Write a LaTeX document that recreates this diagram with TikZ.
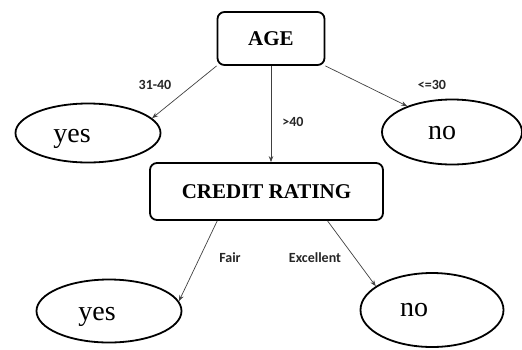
\documentclass[tikz,border=0pt]{standalone}
\usepackage{fontspec}
\setmainfont{Liberation Serif}
\newfontfamily\lblfont{Carlito}
\usetikzlibrary{shapes.geometric,arrows.meta,calc}
\newcommand{\leaftext}[3]{\raisebox{-#2}[0pt][0pt]{#1}\hspace*{#3}}
\begin{document}
\begin{tikzpicture}[x=1pt,y=-1pt,
  box/.style={draw=black,line width=1.8pt,rounded corners=7pt,fill=white,font=\bfseries\fontsize{21}{24}\selectfont,inner sep=0pt},
  leaf/.style={draw=black,line width=1.8pt,ellipse,inner sep=0pt,font=\fontsize{28}{30}\selectfont},
  edge/.style={draw=black!75,line width=0.7pt,-{Stealth[length=6pt,width=4.5pt]}},
  lbl/.style={font=\lblfont\bfseries\fontsize{14}{16}\selectfont,text=black!85,inner sep=0pt}]
\useasboundingbox (0,0) rectangle (522,349);
\node[box,minimum width=107pt,minimum height=53pt] (age) at (271,38.5) {AGE};
\node[leaf,minimum width=145pt,minimum height=59pt] (yes1) at (88,133) {\leaftext{yes}{9pt}{32pt}};
\node[leaf,minimum width=140pt,minimum height=65pt] (no1) at (452,132) {\leaftext{no}{7pt}{20pt}};
\node[box,minimum width=233pt,minimum height=57pt] (credit) at (266.5,191.5) {CREDIT RATING};
\node[leaf,minimum width=145pt,minimum height=63pt] (yes2) at (109,311) {\leaftext{yes}{9pt}{24pt}};
\node[leaf,minimum width=143pt,minimum height=74pt] (no2) at (432,310) {\leaftext{no}{6.5pt}{36pt}};
\draw[edge] (age.south west) -- (yes1.13);
\draw[edge] (age.south east) -- (no1.150);
\draw[edge] (age.south) -- (age.south |- credit.north);
\draw[edge] ($(credit.south west)!0.29!(credit.south east)$) -- (yes2.8);
\draw[edge] ($(credit.south west)!0.76!(credit.south east)$) -- (no2.157);
\node[lbl] (l1) at (155,85) {31-40};
\node[lbl] (l2) at (293,122) {>40};
\node[lbl] (l3) at (432,85) {<=30};
\node[lbl] (l4) at (230,258) {Fair};
\node[lbl] (l5) at (315,258) {Excellent};
\end{tikzpicture}
\end{document}
